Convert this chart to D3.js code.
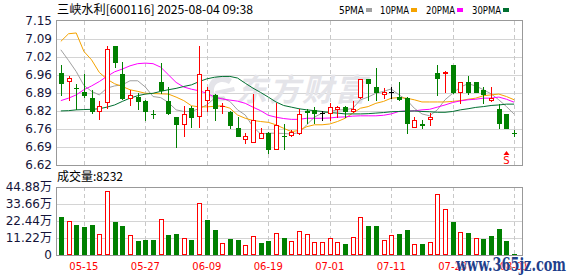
<!DOCTYPE html>
<html>
<head>
<meta charset="utf-8">
<script src="https://cdn.jsdelivr.net/npm/d3@7"></script>
<style>
body{margin:0;background:#fff;}
svg{display:block;}
</style>
</head>
<body>
<svg id="svg" width="578" height="276"></svg>
<script>
// 交易日
var dates = ['05-12','05-13','05-14','05-15','05-16','05-19','05-20','05-21','05-22','05-23',
    '05-26','05-27','05-28','05-29','05-30','06-03','06-04','06-05','06-06','06-09',
    '06-10','06-11','06-12','06-13','06-16','06-17','06-18','06-19','06-20','06-23',
    '06-24','06-25','06-26','06-27','06-30','07-01','07-02','07-03','07-04','07-07',
    '07-08','07-09','07-10','07-11','07-14','07-15','07-16','07-17','07-18','07-21',
    '07-22','07-23','07-24','07-25','07-28','07-29','07-30','07-31','08-01','08-04'];

var open = [6.957,6.930,6.905,6.887,6.866,6.819,6.851,7.059,6.954,6.868,
    6.872,6.857,6.807,6.927,6.855,6.795,6.770,6.830,6.801,6.860,
    6.877,6.836,6.814,6.755,6.717,6.706,6.718,6.737,6.678,6.728,
    6.731,6.739,6.818,6.822,6.810,6.810,6.825,6.835,6.817,6.870,
    6.936,6.907,6.881,6.888,6.870,6.866,6.759,6.772,6.788,6.958,
    6.959,6.989,6.888,6.927,6.927,6.897,6.860,6.827,6.808,6.737];
var high = [6.989,6.948,6.919,6.954,6.897,6.856,7.059,7.059,6.998,6.897,
    6.884,6.860,6.822,6.994,6.908,6.795,6.837,6.837,7.059,6.906,
    6.881,6.847,6.817,6.796,6.737,6.881,6.755,6.743,6.850,6.770,
    6.749,6.825,6.827,6.832,6.817,6.850,6.836,6.836,6.855,6.936,
    6.938,6.977,6.903,6.907,6.927,6.870,6.796,6.786,6.811,6.989,
    6.967,6.989,6.925,6.948,6.927,6.907,6.907,6.844,6.808,6.747];
var low = [6.879,6.860,6.825,6.870,6.811,6.788,6.828,6.980,6.862,6.839,
    6.827,6.786,6.792,6.884,6.808,6.687,6.728,6.761,6.759,6.817,
    6.786,6.811,6.755,6.727,6.700,6.706,6.718,6.665,6.678,6.678,
    6.727,6.734,6.774,6.774,6.786,6.786,6.796,6.798,6.815,6.866,
    6.860,6.860,6.866,6.866,6.860,6.739,6.759,6.755,6.768,6.878,
    6.887,6.884,6.850,6.882,6.887,6.850,6.854,6.758,6.758,6.728];
var close = [6.920,6.940,6.905,6.879,6.817,6.836,7.047,6.998,6.868,6.877,
    6.857,6.817,6.807,6.897,6.810,6.770,6.807,6.795,6.954,6.895,
    6.828,6.838,6.768,6.727,6.725,6.786,6.737,6.678,6.768,6.726,
    6.743,6.807,6.814,6.810,6.810,6.835,6.834,6.818,6.827,6.936,
    6.921,6.887,6.888,6.888,6.862,6.776,6.786,6.769,6.798,6.940,
    6.963,6.887,6.925,6.887,6.887,6.881,6.868,6.776,6.758,6.737];

// 均线
var ma5 = [7.044,7.005,6.964,6.913,6.891,6.878,6.903,6.911,6.915,6.930,
    6.930,6.907,6.872,6.868,6.850,6.823,6.817,6.817,6.828,6.841,
    6.866,6.866,6.854,6.823,6.804,6.761,6.734,6.737,6.737,6.736,
    6.734,6.739,6.768,6.796,6.811,6.817,6.823,6.823,6.829,6.860,
    6.870,6.884,6.891,6.900,6.878,6.860,6.829,6.808,6.801,6.823,
    6.860,6.884,6.907,6.919,6.911,6.897,6.882,6.860,6.835,6.807];
var ma10 = [7.075,7.103,7.106,7.038,7.007,6.961,6.936,6.919,6.909,6.897,
    6.891,6.884,6.883,6.882,6.881,6.870,6.857,6.838,6.834,6.834,
    6.836,6.838,6.829,6.804,6.792,6.784,6.780,6.777,6.768,6.755,
    6.743,6.747,6.761,6.768,6.768,6.771,6.780,6.792,6.811,6.829,
    6.835,6.847,6.854,6.866,6.868,6.866,6.860,6.852,6.852,6.852,
    6.852,6.854,6.857,6.862,6.866,6.875,6.878,6.881,6.872,6.860];
var ma20 = [6.857,6.866,6.878,6.897,6.911,6.927,6.946,6.963,6.973,6.985,
    6.993,6.995,6.993,6.980,6.952,6.924,6.907,6.899,6.893,6.884,
    6.870,6.863,6.859,6.855,6.847,6.833,6.820,6.803,6.796,6.791,
    6.788,6.788,6.792,6.792,6.792,6.793,6.796,6.797,6.800,6.801,
    6.801,6.801,6.803,6.808,6.817,6.819,6.819,6.823,6.825,6.833,
    6.841,6.850,6.856,6.860,6.862,6.866,6.866,6.870,6.862,6.851];
var ma30 = [6.819,6.820,6.823,6.824,6.825,6.827,6.833,6.841,6.854,6.866,
    6.875,6.881,6.884,6.891,6.897,6.902,6.909,6.915,6.927,6.937,
    6.943,6.946,6.946,6.940,6.921,6.903,6.887,6.870,6.852,6.839,
    6.833,6.827,6.823,6.820,6.817,6.813,6.811,6.808,6.808,6.808,
    6.809,6.811,6.813,6.816,6.817,6.818,6.819,6.817,6.816,6.814,
    6.814,6.817,6.823,6.827,6.832,6.835,6.839,6.841,6.844,6.844];

// 成交量（万），最后一根 8232
var vol = [25.1,22.2,19.8,18.5,19.8,13.6,42.2,21.8,19.1,13.0,
    9.2,9.9,9.9,23.5,13.2,13.9,11.0,9.9,34.1,23.1,
    16.5,7.7,10.6,9.9,6.4,12.3,7.9,9.2,14.3,11.2,
    9.0,15.6,13.6,8.4,8.4,11.0,8.4,7.3,11.9,24.9,
    19.1,19.1,9.7,13.0,13.9,16.5,7.3,7.3,8.4,40.0,
    30.4,21.8,15.0,14.5,11.2,10.6,12.5,17.2,9.2,0.8232];
// 1 = 红柱, 0 = 绿柱
var volUp = [0,1,0,0,0,1,1,0,0,1, 0,0,0,1,0,0,1,0,1,0,
    0,1,0,0,1,1,0,0,1,0, 1,1,1,1,1,1,1,0,1,1,
    0,0,1,1,0,0,1,0,1,1, 1,0,1,0,1,0,0,0,0,0];

var priceTickText = ['6.62','6.69','6.76','6.82','6.89','6.96','7.02','7.09','7.15'];
var volTickVals = [0, 11.22, 22.44, 33.66, 44.88];
var tickIdx = [3, 11, 19, 27, 35, 43, 51, 59];
var tickText = ['05-15','05-27','06-09','06-19','07-01','07-11','07-23','08-01'];

var maNames = ['5PMA','10PMA','20PMA','30PMA'];
var maColors = ['#a0a0a0','#f5a300','#ff00ff','#006f30'];

var UP = '#ff0000', DOWN = '#008000';

/*************************** 画布 ******************************/
var svg = d3.select('#svg');
var L = 56, R = 522, pTop = 21, pBot = 165, vTop = 187, vBot = 255;

var x = d3.scaleBand().domain(d3.range(dates.length)).range([57, 518]);
var yP = d3.scaleLinear().domain([6.62, 7.15]).range([pBot, pTop]);
var yV = d3.scaleLinear().domain([0, 44.88]).range([vBot, vTop]);

function cx(i){ return Math.round(x(i) + x.bandwidth() / 2); }

var font = "'DejaVu Sans', 'Noto Sans CJK SC', sans-serif";

// 标题
svg.append('text').attr('x', 57).attr('y', 14)
    .attr('font-family', "'Noto Sans CJK SC', 'DejaVu Sans', sans-serif")
    .attr('font-size', 12).attr('fill', '#000')
    .attr('textLength', 196).attr('lengthAdjust', 'spacingAndGlyphs')
    .text('三峡水利[600116] 2025-08-04 09:38');

// 图例
var legX = [339, 380, 426, 472], legW = [25, 29, 29, 29];
maNames.forEach(function(n, i){
    svg.append('text').attr('x', legX[i]).attr('y', 14)
        .attr('font-family', font).attr('font-size', 11).attr('fill', '#000')
        .attr('textLength', legW[i]).attr('lengthAdjust', 'spacingAndGlyphs')
        .text(n);
    svg.append('rect').attr('x', legX[i] + legW[i] + 2).attr('y', 8)
        .attr('width', 6).attr('height', 4).attr('fill', maColors[i]);
});

/*************************** 网格 ******************************/
var grid = svg.append('g');
var pTickVals = priceTickText.map(function(d, k){
    return yP.domain()[0] + k * (yP.domain()[1] - yP.domain()[0]) / 8;
});
pTickVals.slice(1, 8).forEach(function(v){
    var yy = Math.round(yP(v)) + 0.5;
    grid.append('line').attr('x1', L).attr('x2', R).attr('y1', yy).attr('y2', yy)
        .attr('stroke', '#d4d4d4');
});
volTickVals.slice(1, 4).forEach(function(v){
    var yy = Math.round(yV(v)) + 0.5;
    grid.append('line').attr('x1', L).attr('x2', R).attr('y1', yy).attr('y2', yy)
        .attr('stroke', '#d4d4d4');
});
tickIdx.forEach(function(i){
    var xx = cx(i) + 0.5;
    [[pTop, pBot], [vTop, vBot]].forEach(function(r){
        grid.append('line').attr('x1', xx).attr('x2', xx).attr('y1', r[0]).attr('y2', r[1])
            .attr('stroke', '#c8c8c8').attr('stroke-dasharray', '4,3');
    });
});

// 水印
var wm = svg.append('g').attr('fill', '#e4e4e9');
wm.append('path')
    .attr('d', 'M232,79 C223,72 209,76 208,89 C207,99 217,104 227,100 L224,96 C217,98 213,94 214,89 C215,82 223,80 229,84 Z M215,91 L234,87 L235,91 L216,95 Z');
wm.append('text').attr('x', 236).attr('y', 101)
    .attr('font-family', "'Noto Sans CJK SC', sans-serif").attr('font-weight', 'bold')
    .attr('font-style', 'italic').attr('font-size', 31)
    .attr('textLength', 130).text('东方财富');

/*************************** 均线 ******************************/
var line = d3.line()
    .x(function(d, i){ return x(i) + x.bandwidth() / 2; })
    .y(function(d){ return yP(d); });
[ma5, ma10, ma20, ma30].forEach(function(s, k){
    svg.append('path').datum(s).attr('d', line).attr('fill', 'none')
        .attr('stroke', maColors[k]).attr('stroke-width', 1);
});

/*************************** K线 ******************************/
function candleColor(i){
    if (close[i] > open[i]) return UP;
    if (close[i] < open[i]) return DOWN;
    var pc = i > 0 ? close[i - 1] : close[i];
    return close[i] > pc ? UP : (close[i] < pc ? DOWN : '#000');
}

var kg = svg.append('g');
dates.forEach(function(d, i){
    var c = cx(i), col = candleColor(i);
    var yt = Math.round(yP(Math.max(open[i], close[i])));
    var yb = Math.round(yP(Math.min(open[i], close[i])));
    kg.append('line').attr('x1', c + 0.5).attr('x2', c + 0.5)
        .attr('y1', Math.round(yP(high[i]))).attr('y2', Math.round(yP(low[i])) + 1)
        .attr('stroke', col);
    if (yb - yt < 1) {
        kg.append('line').attr('x1', c - 2).attr('x2', c + 3)
            .attr('y1', yt + 0.5).attr('y2', yt + 0.5).attr('stroke', col);
    } else if (col === UP) {
        kg.append('rect').attr('x', c - 1.5).attr('y', yt + 0.5)
            .attr('width', 4).attr('height', yb - yt)
            .attr('fill', '#fff').attr('stroke', UP);
    } else {
        kg.append('rect').attr('x', c - 2).attr('y', yt)
            .attr('width', 5).attr('height', yb - yt + 1).attr('fill', DOWN);
    }
});

// 卖出标记
var sx = cx(58);
svg.append('path').attr('d', 'M' + (sx + 0.5) + ',151 L' + (sx + 3.5) + ',155 L' + (sx - 2.5) + ',155 Z')
    .attr('fill', UP);
svg.append('text').attr('x', sx + 0.5).attr('y', 164).attr('text-anchor', 'middle')
    .attr('font-family', font).attr('font-size', 10).attr('fill', UP).text('S');

/*************************** 成交量 ******************************/
svg.append('text').attr('x', 57).attr('y', 181)
    .attr('font-family', "'Noto Sans CJK SC', 'DejaVu Sans', sans-serif")
    .attr('font-size', 12).attr('fill', '#000')
    .attr('textLength', 66).attr('lengthAdjust', 'spacingAndGlyphs')
    .text('成交量:8232');

var vg = svg.append('g');
vol.forEach(function(v, i){
    var c = cx(i), yt = Math.round(yV(v));
    if (vBot - yt < 1) return;
    if (volUp[i]) {
        vg.append('rect').attr('x', c - 1.5).attr('y', yt + 0.5)
            .attr('width', 4).attr('height', vBot - yt - 1)
            .attr('fill', '#fff').attr('stroke', UP);
    } else {
        vg.append('rect').attr('x', c - 2).attr('y', yt)
            .attr('width', 5).attr('height', vBot - yt).attr('fill', DOWN);
    }
});

/*************************** 边框和坐标轴 ******************************/
svg.append('rect').attr('x', L + 0.5).attr('y', pTop - 0.5).attr('width', R - L).attr('height', pBot - pTop + 1)
    .attr('fill', 'none').attr('stroke', '#999');
svg.append('rect').attr('x', L + 0.5).attr('y', vTop + 0.5).attr('width', R - L).attr('height', vBot - vTop)
    .attr('fill', 'none').attr('stroke', '#999');

var ay = svg.append('g').attr('transform', 'translate(' + L + ',0)')
    .call(d3.axisLeft(yP).tickValues(pTickVals).tickSize(0).tickPadding(4)
        .tickFormat(function(d, i){ return priceTickText[i]; }));
var av = svg.append('g').attr('transform', 'translate(' + L + ',0)')
    .call(d3.axisLeft(yV).tickValues(volTickVals).tickSize(0).tickPadding(4)
        .tickFormat(function(d){ return d === 0 ? '0' : d.toFixed(2) + '万'; }));
[ay, av].forEach(function(g){
    g.select('.domain').remove();
    g.selectAll('text').attr('font-family', font).attr('font-size', 12).attr('fill', '#14143a');
});

var ax = svg.append('g').attr('transform', 'translate(0,' + vBot + ')')
    .call(d3.axisBottom(x).tickValues(tickIdx).tickSize(0).tickPadding(8)
        .tickFormat(function(d, i){ return tickText[i]; }));
ax.select('.domain').remove();
ax.selectAll('text').attr('font-family', font).attr('font-size', 10).attr('fill', '#ff0000');

// 网站水印
svg.append('text').attr('x', 456).attr('y', 271)
    .attr('font-family', "'DejaVu Serif', serif").attr('font-weight', 'bold')
    .attr('font-size', 19).attr('fill', '#1f3f8c')
    .attr('stroke', '#fff').attr('stroke-width', 0.6).attr('paint-order', 'stroke')
    .attr('textLength', 110).attr('lengthAdjust', 'spacingAndGlyphs')
    .text('www.365jz.com');
</script>
</body>
</html>
